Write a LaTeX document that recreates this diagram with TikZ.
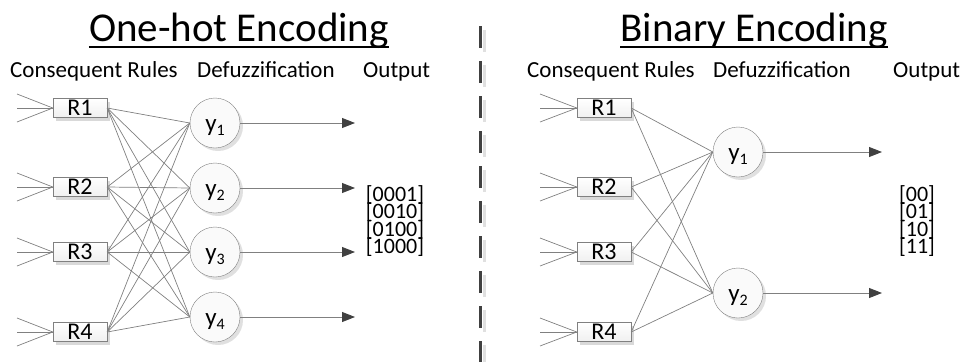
\documentclass[tikz,border=0pt]{standalone}
\usepackage{fontspec}
\setmainfont{Carlito}
\usetikzlibrary{arrows.meta,shadows}
\definecolor{lc}{HTML}{808080}
\definecolor{dk}{HTML}{404040}
\newcommand\ylab[1]{{\fontsize{25}{25}\selectfont y}\raisebox{-4pt}{\fontsize{16}{16}\selectfont #1}}
\tikzset{
 rbox/.style={draw=lc, top color=white, bottom color=gray!12, minimum width=54pt, minimum height=19pt, inner sep=0pt,
   font=\fontsize{24}{24}\selectfont, drop shadow={shadow xshift=3pt, shadow yshift=-3pt, fill=black!15, opacity=1}},
 ycirc/.style={circle, draw=lc, fill=gray!4, minimum size=50pt, inner sep=0pt, text height=16pt, text depth=0pt,
   drop shadow={shadow xshift=3pt, shadow yshift=-3pt, fill=black!12, opacity=1}},
 wire/.style={draw=lc, line width=0.7pt},
 outarrow/.style={draw=lc, line width=0.9pt, -{Triangle[length=13pt,width=10pt,color=dk]}},
 subt/.style={anchor=base west, inner sep=0pt, font=\fontsize{23}{23}\selectfont},
 ttl/.style={anchor=base, inner sep=0pt, font=\fontsize{41}{41}\selectfont},
 outtxt/.style={align=center, inner sep=0pt, font={\fontsize{22}{17.5}\selectfont\lineskiplimit=-40pt}},
}
\begin{document}
\begin{tikzpicture}[x=1pt,y=-1pt]
\useasboundingbox (0,0) rectangle (963,362);
% titles
\node[ttl] (t1) at (239,41) {One-hot Encoding};
\draw[line width=2pt] ([yshift=-6pt]t1.base west) -- ([yshift=-6pt]t1.base east);
\node[ttl] (t2) at (754,41) {Binary Encoding};
\draw[line width=2pt] ([yshift=-6pt]t2.base west) -- ([yshift=-6pt]t2.base east);
% subtitles
\node[subt] (s1) at (10,77) {Consequent Rules};
\node[subt] (s2) at (197,77) {Defuzzification};
\node[subt] (s3) at (363,77) {Output};
\node[subt] (s4) at (527,77) {Consequent Rules};
\node[subt] (s5) at (713,77) {Defuzzification};
\node[subt] (s6) at (893,77) {Output};
% divider
\coordinate (dA) at (484,30); \coordinate (dB) at (484,362);
\coordinate (dC) at (480,26); \coordinate (dD) at (480,362);
\draw[black!12, line width=3pt, dash pattern=on 22pt off 13pt] (dA) -- (dB);
\draw[dk, line width=3pt, dash pattern=on 22pt off 13pt] (dC) -- (dD);
% left network
\foreach \i/\yy in {1/108,2/187,3/252,4/332}{
  \node[rbox] (L\i) at (80,\yy) {R\i};
  \foreach \d/\k in {-14/a,0/b,14/c}{
    \coordinate (Lin\i\k) at (17,\yy+\d);
    \draw[wire] (Lin\i\k) -- (L\i.west);
  }
}
\foreach \i/\yy in {1/123,2/188,3/252,4/317}{
  \node[ycirc] (LY\i) at (215,\yy) {\ylab{\i}};
  \coordinate (LO\i) at (355,\yy);
  \draw[outarrow] (LY\i.east) -- (LO\i);
}
\foreach \i in {1,...,4}{
  \foreach \j in {1,...,4}{
    \draw[wire] (L\i.east) -- (LY\j.west);
  }
}
\node[outtxt] (LOut) at (395,221) {{[0001]}\\{[0010]}\\{[0100]}\\{[1000]}};
% right network
\foreach \i/\yy in {1/108,2/187,3/252,4/332}{
  \node[rbox] (R\i) at (604,\yy) {R\i};
  \foreach \d/\k in {-14/a,0/b,14/c}{
    \coordinate (Rin\i\k) at (540,\yy+\d);
    \draw[wire] (Rin\i\k) -- (R\i.west);
  }
}
\foreach \i/\yy in {1/152,2/293}{
  \node[ycirc] (RY\i) at (738,\yy) {\ylab{\i}};
  \coordinate (RO\i) at (882,\yy);
  \draw[outarrow] (RY\i.east) -- (RO\i);
}
\foreach \i in {1,...,4}{
  \foreach \j in {1,2}{
    \draw[wire] (R\i.east) -- (RY\j.west);
  }
}
\node[outtxt] (ROut) at (917,221) {{[00]}\\{[01]}\\{[10]}\\{[11]}};
\end{tikzpicture}
\end{document}
